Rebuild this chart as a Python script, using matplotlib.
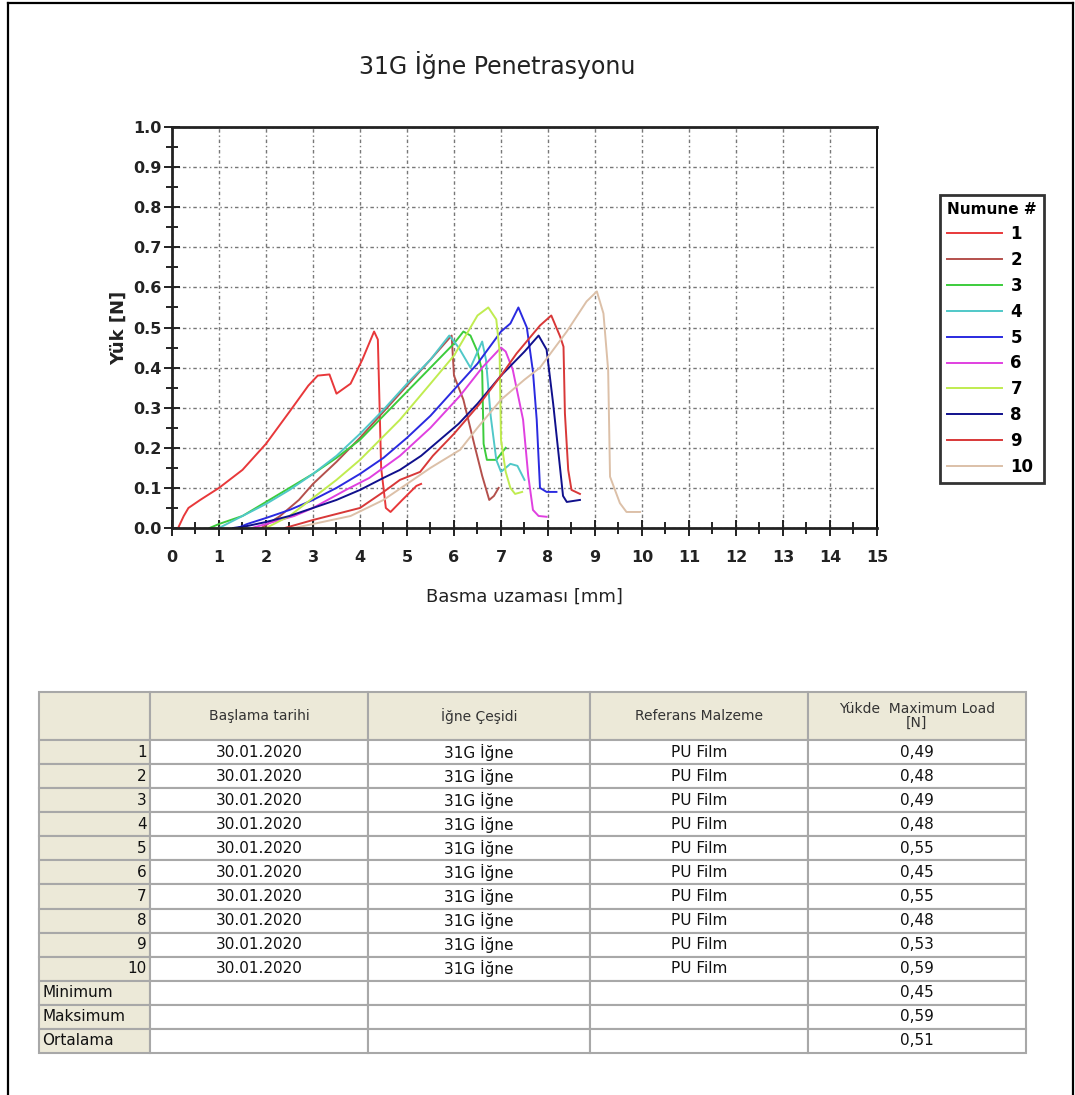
import numpy as np
import matplotlib.pyplot as plt
from matplotlib.lines import Line2D
from matplotlib.ticker import MultipleLocator

plt.rcParams['font.family'] = ['DejaVu Sans']

# Numune verileri: basma uzaması [mm] ve yük [N]
disp_1 = [0.13, 0.25, 0.35, 0.6, 1.0, 1.5, 2.0, 2.5, 2.9, 3.1, 3.35, 3.5, 3.8, 4.05, 4.3, 4.38, 4.45, 4.55, 4.65, 4.9, 5.2, 5.3]
load_1 = [0.0, 0.03, 0.05, 0.07, 0.10, 0.145, 0.21, 0.29, 0.355, 0.38, 0.383, 0.335, 0.36, 0.42, 0.49, 0.47, 0.15, 0.05, 0.04, 0.07, 0.105, 0.11]

disp_2 = [1.9, 2.3, 2.7, 3.0, 3.5, 4.0, 4.5, 5.0, 5.5, 5.95, 6.0, 6.2, 6.45, 6.6, 6.75, 6.85, 6.95]
load_2 = [0.0, 0.03, 0.07, 0.11, 0.165, 0.225, 0.29, 0.355, 0.42, 0.48, 0.38, 0.32, 0.2, 0.13, 0.07, 0.08, 0.1]

disp_3 = [0.8, 1.0, 1.5, 2.0, 2.5, 3.0, 3.5, 4.0, 4.5, 5.0, 5.5, 6.0, 6.2, 6.35, 6.5, 6.6, 6.63, 6.7, 6.9, 7.1]
load_3 = [0.0, 0.01, 0.03, 0.065, 0.10, 0.135, 0.175, 0.22, 0.28, 0.34, 0.40, 0.46, 0.49, 0.48, 0.44, 0.39, 0.21, 0.17, 0.17, 0.2]

disp_4 = [1.0, 1.5, 2.0, 2.5, 3.0, 3.5, 4.0, 4.5, 5.0, 5.5, 5.9, 6.1, 6.35, 6.6, 6.68, 6.78, 6.9, 7.0, 7.2, 7.35, 7.5]
load_4 = [0.0, 0.03, 0.06, 0.095, 0.135, 0.18, 0.235, 0.295, 0.36, 0.42, 0.48, 0.45, 0.40, 0.465, 0.42, 0.28, 0.17, 0.14, 0.16, 0.155, 0.12]

disp_5 = [1.4, 1.6, 2.0, 2.5, 3.0, 3.5, 4.0, 4.5, 5.0, 5.5, 6.0, 6.5, 7.0, 7.2, 7.37, 7.55, 7.68, 7.76, 7.83, 7.97, 8.18]
load_5 = [0.0, 0.01, 0.025, 0.045, 0.07, 0.10, 0.135, 0.175, 0.225, 0.28, 0.345, 0.41, 0.49, 0.51, 0.55, 0.50, 0.39, 0.27, 0.10, 0.09, 0.09]

disp_6 = [1.7, 2.0, 2.6, 3.0, 3.7, 4.2, 4.85, 5.5, 6.13, 6.6, 7.0, 7.1, 7.25, 7.47, 7.58, 7.68, 7.8, 7.97]
load_6 = [0.0, 0.01, 0.03, 0.05, 0.095, 0.125, 0.18, 0.25, 0.33, 0.40, 0.45, 0.44, 0.395, 0.27, 0.13, 0.045, 0.03, 0.028]

disp_7 = [2.0, 2.5, 3.0, 3.5, 4.0, 4.85, 5.5, 6.0, 6.3, 6.5, 6.73, 6.9, 6.97, 7.0, 7.1, 7.2, 7.3, 7.45]
load_7 = [0.0, 0.03, 0.075, 0.12, 0.17, 0.27, 0.36, 0.43, 0.49, 0.53, 0.55, 0.52, 0.44, 0.22, 0.14, 0.10, 0.085, 0.09]

disp_8 = [1.3, 1.6, 2.0, 2.5, 3.0, 3.5, 4.0, 4.5, 4.85, 5.3, 6.1, 6.5, 7.0, 7.5, 7.8, 7.97, 8.11, 8.22, 8.32, 8.4, 8.68]
load_8 = [0.0, 0.005, 0.015, 0.03, 0.05, 0.07, 0.095, 0.125, 0.145, 0.18, 0.26, 0.31, 0.38, 0.44, 0.48, 0.445, 0.31, 0.19, 0.08, 0.065, 0.07]

disp_9 = [2.4, 3.0, 3.5, 4.0, 4.5, 4.85, 5.28, 5.55, 6.0, 6.55, 7.0, 7.33, 7.83, 8.07, 8.26, 8.33, 8.36, 8.43, 8.5, 8.68]
load_9 = [0.0, 0.02, 0.035, 0.05, 0.09, 0.12, 0.14, 0.18, 0.235, 0.31, 0.38, 0.435, 0.505, 0.53, 0.477, 0.452, 0.286, 0.145, 0.095, 0.085]

disp_10 = [2.6, 3.0, 3.8, 4.5, 5.0, 5.5, 6.13, 6.5, 7.0, 7.5, 7.83, 8.4, 8.82, 9.04, 9.18, 9.28, 9.32, 9.53, 9.67, 9.96]
load_10 = [0.0, 0.01, 0.03, 0.07, 0.11, 0.15, 0.195, 0.25, 0.32, 0.37, 0.40, 0.49, 0.565, 0.59, 0.535, 0.394, 0.128, 0.062, 0.04, 0.04]

sample_ids = [str(i) for i in range(1, 11)]
colors = ['#e8383a', '#b4504c', '#3ccc3c', '#50c8c8', '#2a2ae0',
          '#e040e0', '#c0ec50', '#10108c', '#d83838', '#dcc0a8']

# Tablo verileri
start_dates = ['30.01.2020'] * 10
needle_types = ['31G İğne'] * 10
ref_materials = ['PU Film'] * 10
max_load = [0.49, 0.48, 0.49, 0.48, 0.55, 0.45, 0.55, 0.48, 0.53, 0.59]

disps = [disp_1, disp_2, disp_3, disp_4, disp_5, disp_6, disp_7, disp_8, disp_9, disp_10]
loads = [load_1, load_2, load_3, load_4, load_5, load_6, load_7, load_8, load_9, load_10]

fig = plt.figure(figsize=(10.75, 10.95), dpi=100)

# dış çerçeve
for xs, ys in [([0.007, 0.007], [-0.01, 0.9977]),
               ([0.007, 0.9977], [0.9977, 0.9977]),
               ([0.9977, 0.9977], [0.9977, -0.01])]:
    fig.add_artist(Line2D(xs, ys, color='black', lw=1.6, transform=fig.transFigure))

fig.text(0.4625, 1 - 65 / 1095, '31G İğne Penetrasyonu', ha='center', va='center',
         fontsize=17, color='#222222')

ax = fig.add_axes([0.16, 0.5178, 0.6558, 0.3662])
handles = []
for sid, c, d, l in zip(sample_ids, colors, disps, loads):
    h, = ax.plot(d, l, color=c, lw=1.4, label=sid)
    handles.append(h)

ax.set_xlim(0, 15)
ax.set_ylim(0, 1.0)
ax.xaxis.set_major_locator(MultipleLocator(1))
ax.xaxis.set_minor_locator(MultipleLocator(0.5))
ax.yaxis.set_major_locator(MultipleLocator(0.1))
ax.yaxis.set_minor_locator(MultipleLocator(0.05))
ax.yaxis.set_major_formatter(plt.FuncFormatter(lambda v, p: f'{v:.1f}'))
ax.tick_params(which='major', direction='inout', length=11, width=1.4, color='#222222',
               labelsize=11.5, labelcolor='#222222')
ax.tick_params(which='minor', direction='inout', length=9, width=1.4, color='#222222')
for lab in ax.get_xticklabels() + ax.get_yticklabels():
    lab.set_fontweight('bold')
ax.tick_params(axis='x', pad=10)
ax.tick_params(axis='y', pad=2)
ax.grid(True, which='major', color='#777777', lw=1.0, linestyle=(0, (2.5, 2, 1, 2)))
for side in ['left', 'bottom', 'top']:
    ax.spines[side].set_linewidth(2.0)
    ax.spines[side].set_color('#222222')
ax.spines['right'].set_linewidth(1.3)

ax.set_xlabel('Basma uzaması [mm]', fontsize=13, color='#222222', labelpad=17)
ax.set_ylabel('Yük [N]', fontsize=13, fontweight='bold', color='#222222', labelpad=4)

leg = fig.legend(handles=handles, labels=sample_ids, title='Numune #',
                 loc='upper left', bbox_to_anchor=(0.874, 0.822),
                 frameon=True, fancybox=False, framealpha=1, edgecolor='#333333',
                 handlelength=3.3, handletextpad=0.5, labelspacing=0.47,
                 borderpad=0.45, borderaxespad=0,
                 prop={'size': 12, 'weight': 'bold'},
                 title_fontproperties={'size': 11, 'weight': 'bold'})
leg.get_frame().set_linewidth(2.0)
leg._legend_box.align = 'left'

# sonuç tablosu
fmt = lambda v: f'{v:.2f}'.replace('.', ',')
col_labels = ['', 'Başlama tarihi', 'İğne Çeşidi', 'Referans Malzeme',
              'Yükde  Maximum Load\n[N]']
body = [[sid, d, n, m, fmt(v)] for sid, d, n, m, v in
        zip(sample_ids, start_dates, needle_types, ref_materials, max_load)]
body.append(['Minimum', '', '', '', fmt(min(max_load))])
body.append(['Maksimum', '', '', '', fmt(max(max_load))])
body.append(['Ortalama', '', '', '', fmt(np.mean(max_load))])

tax = fig.add_axes([0.0363, 0.0384, 0.918, 0.3297])
tax.axis('off')
tab = tax.table(cellText=body, colLabels=col_labels, cellLoc='center',
                bbox=[0, 0, 1, 1])
tab.auto_set_font_size(False)
col_w = [111, 218, 222, 218, 218]
for (r, c), cell in tab.get_celld().items():
    cell.set_width(col_w[c])
    cell.set_height(2.0 if r == 0 else 1.0)
    cell.set_edgecolor('#a8a8a8')
    cell.set_linewidth(1.5)
    txt = cell.get_text()
    if r == 0:
        cell.set_facecolor('#ece9d8')
        txt.set_fontsize(10)
        txt.set_color('#333333')
        txt.set_linespacing(1.0)
    elif c == 0:
        cell.set_facecolor('#ece9d8')
        txt.set_fontsize(11)
        txt.set_color('#111111')
        cell.PAD = 0.03
        txt.set_horizontalalignment('right' if r <= 10 else 'left')
    else:
        cell.set_facecolor('white')
        txt.set_fontsize(11)
        txt.set_color('#111111')

fig.savefig('out.png', dpi=100)
